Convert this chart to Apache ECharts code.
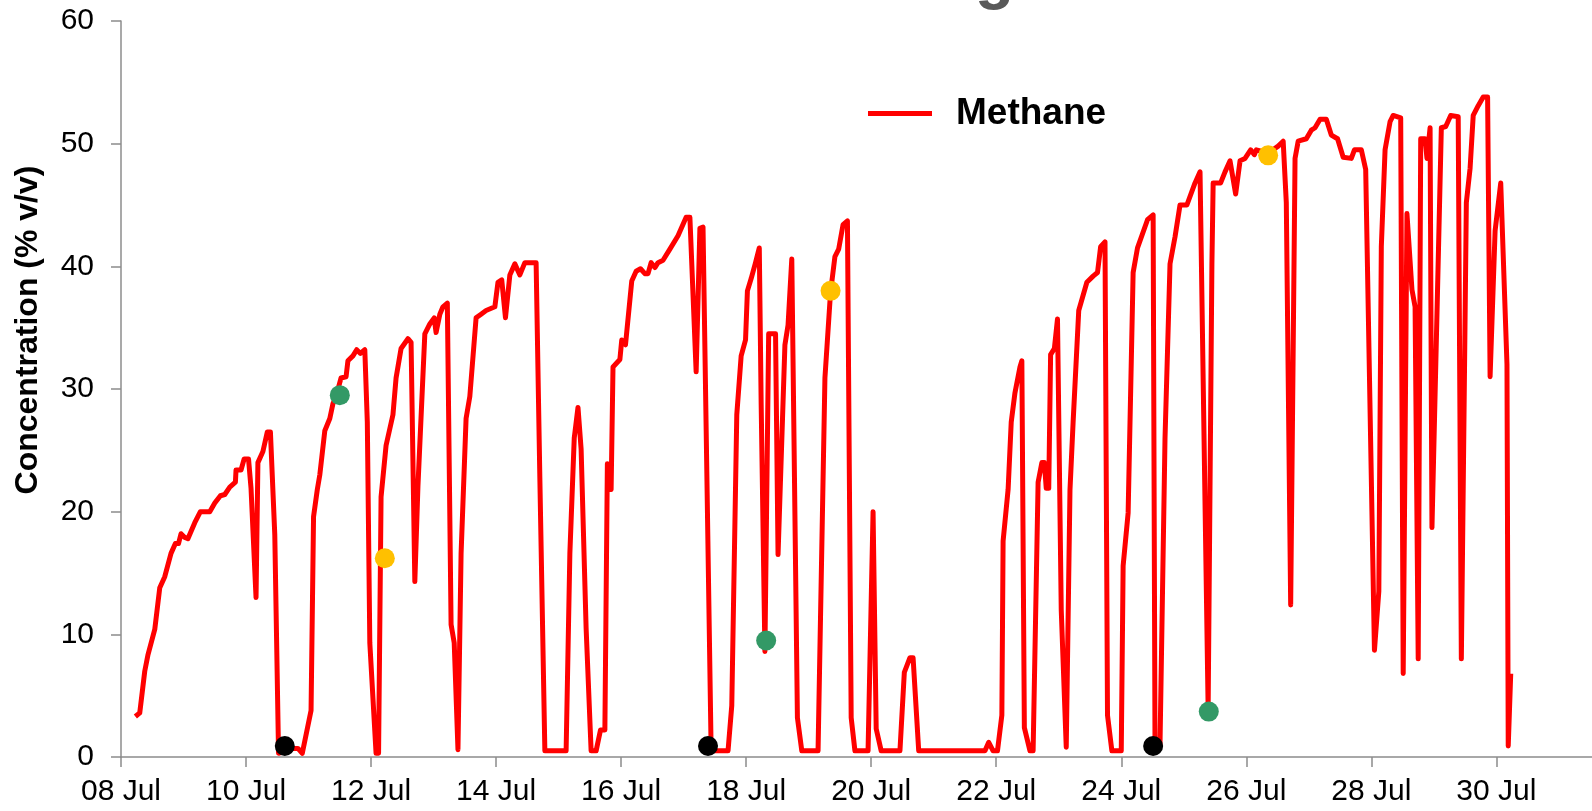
<!DOCTYPE html>
<html>
<head>
<meta charset="utf-8">
<script src="https://cdn.jsdelivr.net/npm/echarts@6/dist/echarts.min.js"></script>
<style>
html,body{margin:0;padding:0;background:#fff;}
#chart{width:1592px;height:811px;}
</style>
</head>
<body>
<div id="chart"></div>
<script>
// Time in days since 08 Jul 00:00
const dayOffsets = [
0.23,0.30,0.38,0.43,0.54,0.62,0.70,0.80,0.87,0.92,0.96,1.02,1.07,1.18,1.27,1.42,1.50,1.59,1.66,1.74,
1.83,1.84,1.92,1.97,2.04,2.08,2.16,2.19,2.27,2.34,2.39,2.46,2.52,2.75,2.83,2.90,3.04,3.08,3.14,3.18,
3.26,3.34,3.39,3.44,3.52,3.60,3.63,3.71,3.77,3.83,3.90,3.94,3.98,4.08,4.12,4.16,4.24,4.35,4.40,4.48,
4.59,4.64,4.70,4.75,4.86,4.94,5.01,5.04,5.10,5.15,5.22,5.28,5.33,5.39,5.44,5.52,5.58,5.68,5.76,5.84,
5.98,6.03,6.09,6.15,6.22,6.30,6.38,6.46,6.64,6.70,6.78,7.12,7.18,7.25,7.31,7.36,7.44,7.52,7.60,7.67,
7.74,7.78,7.84,7.87,7.98,8.01,8.07,8.17,8.24,8.31,8.38,8.43,8.48,8.54,8.59,8.67,8.78,8.91,9.04,9.10,
9.20,9.26,9.31,9.44,9.71,9.77,9.85,9.92,9.99,10.02,10.08,10.15,10.21,10.24,10.30,10.36,10.47,10.51,10.62,10.67,
10.73,10.82,10.89,11.15,11.26,11.35,11.42,11.48,11.55,11.62,11.68,11.74,11.95,12.03,12.08,12.16,12.46,12.53,12.62,12.67,
12.76,13.82,13.88,13.95,14.02,14.09,14.11,14.19,14.24,14.30,14.38,14.41,14.45,14.54,14.59,14.67,14.73,14.77,14.80,14.84,
14.87,14.93,14.98,15.04,15.12,15.18,15.23,15.32,15.45,15.55,15.62,15.67,15.74,15.78,15.85,16.00,16.03,16.11,16.19,16.26,
16.42,16.51,16.54,16.62,16.70,16.78,16.86,16.94,17.05,17.18,17.26,17.39,17.45,17.47,17.59,17.66,17.74,17.77,17.83,17.90,
17.98,18.07,18.13,18.16,18.30,18.40,18.51,18.59,18.64,18.71,18.78,18.83,18.96,19.04,19.10,19.18,19.28,19.36,19.46,19.55,
19.68,19.73,19.84,19.91,20.05,20.12,20.16,20.22,20.30,20.35,20.47,20.51,20.57,20.65,20.70,20.75,20.79,20.86,20.89,20.94,
20.97,21.12,21.19,21.27,21.39,21.44,21.52,21.58,21.63,21.71,21.79,21.86,21.90,21.98,22.07,22.17,22.19,22.23
];
// Methane concentration (% v/v)
const methane = [
3.3,3.6,7.0,8.3,10.4,13.8,14.7,16.6,17.4,17.4,18.2,17.9,17.8,19.1,20.0,20.0,20.7,21.3,21.4,22.0,
22.4,23.4,23.4,24.3,24.3,21.9,13.0,24.0,24.9,26.5,26.5,18.1,0.3,0.7,0.7,0.3,3.8,19.6,21.8,23.0,
26.6,27.6,28.8,29.4,30.9,31.0,32.3,32.7,33.2,32.9,33.2,27.3,9.3,0.3,0.3,21.2,25.4,27.9,30.9,33.3,
34.1,33.8,14.3,22.1,34.5,35.3,35.8,34.6,36.1,36.7,37.0,10.8,9.3,0.6,16.6,27.6,29.4,35.8,36.1,36.4,
36.7,38.7,38.9,35.8,39.3,40.2,39.3,40.3,40.3,22.7,0.5,0.5,16.6,26.0,28.5,25.1,10.5,0.5,0.5,2.2,
2.2,23.9,21.8,31.8,32.4,34.0,33.6,38.8,39.6,39.8,39.4,39.4,40.3,39.9,40.3,40.5,41.4,42.5,44.0,44.0,
31.4,43.1,43.2,0.5,0.5,4.2,27.9,32.7,34.0,38.0,39.0,40.3,41.5,28.8,8.6,34.5,34.5,16.5,33.6,35.2,
40.6,3.2,0.5,0.5,30.9,37.9,40.8,41.4,43.4,43.7,3.2,0.5,0.5,20.0,2.3,0.5,0.5,6.9,8.1,8.1,
0.5,0.5,1.2,0.5,0.5,3.4,17.6,21.8,27.3,29.7,31.8,32.3,2.4,0.5,0.5,22.4,24.0,24.0,21.9,21.9,
32.8,33.3,35.7,12.0,0.8,21.8,27.3,36.4,38.7,39.2,39.5,41.6,42.0,3.4,0.5,0.5,15.6,19.9,39.5,41.5,
43.8,44.2,1.0,1.0,26.0,40.2,42.4,45.0,45.0,46.8,47.7,3.9,40.2,46.8,46.8,47.7,48.6,48.6,45.9,48.6,
48.8,49.5,49.1,49.5,49.3,49.4,49.8,50.2,45.2,12.4,48.8,50.2,50.4,51.1,51.3,52.0,52.0,50.7,50.4,48.9,
48.8,49.5,49.5,47.9,8.7,13.5,41.6,49.5,51.8,52.3,52.1,6.8,44.3,38.1,36.7,8.0,50.4,50.4,48.8,51.3,
18.7,51.3,51.4,52.3,52.2,8.0,45.2,48.0,52.3,53.1,53.8,53.8,31.0,42.9,46.8,32.0,0.9,6.8
];
// Sampling markers
const blackDays = [2.62, 9.39, 16.51];
const blackVals = [0.9, 0.9, 0.9];
const greenDays = [3.50, 10.32, 17.40];
const greenVals = [29.5, 9.5, 3.7];
const yellowDays = [4.22, 11.35, 18.35];
const yellowVals = [16.2, 38.0, 49.05];

const yTicks = [0, 10, 20, 30, 40, 50, 60];
const seriesName = 'Methane';
const yTitle = 'Concentration (% v/v)';
const titleFragment = 'g';

function zip(a, b) { return a.map((v, i) => [v, b[i]]); }
function dayLabel(v) {
  if (Math.abs(v - Math.round(v)) > 1e-6) return '';
  const d = 8 + Math.round(v);
  return (d < 10 ? '0' + d : '' + d) + ' Jul';
}

const FONT = '"Liberation Sans", Arial, sans-serif';
const chart = echarts.init(document.getElementById('chart'), null, {renderer: 'canvas'});
chart.setOption({
  animation: false,
  backgroundColor: '#ffffff',
  grid: {left: 121, right: 0, top: 21, bottom: 54, containLabel: false},
  legend: {
    data: [seriesName],
    left: 863, top: 90,
    icon: 'rect', itemWidth: 64, itemHeight: 5,
    textStyle: {fontFamily: FONT, fontSize: 37, fontWeight: 'bold', color: '#000', padding: [0, 0, 0, 19]}
  },
  graphic: [
    {type: 'text', x: 975, y: -21,
     style: {text: titleFragment, font: 'bold 64px "Liberation Sans", Arial, sans-serif', fill: '#595959', align: 'left', verticalAlign: 'middle'}},
    {type: 'text', x: 28, y: 330, rotation: Math.PI / 2,
     style: {text: yTitle, font: 'bold 32px "Liberation Sans", Arial, sans-serif', fill: '#000', align: 'center', verticalAlign: 'middle'}}
  ],
  xAxis: {
    type: 'value', min: 0, max: 23.53, interval: 2,
    axisLine: {show: true, lineStyle: {color: '#8c8c8c', width: 1.5}},
    axisTick: {show: true, length: 10, lineStyle: {color: '#8c8c8c', width: 1.5}},
    axisLabel: {formatter: dayLabel, showMaxLabel: false, fontFamily: FONT, fontSize: 30, color: '#000', margin: 20},
    splitLine: {show: false}
  },
  yAxis: {
    type: 'value', min: yTicks[0], max: yTicks[yTicks.length - 1], interval: 10,
    axisLine: {show: true, lineStyle: {color: '#8c8c8c', width: 1.5}},
    axisTick: {show: true, length: 10, lineStyle: {color: '#8c8c8c', width: 1.5}},
    axisLabel: {fontFamily: FONT, fontSize: 30, color: '#000', margin: 27},
    splitLine: {show: false}
  },
  series: [
    {name: seriesName, type: 'line', data: zip(dayOffsets, methane), showSymbol: false, symbol: 'none',
     lineStyle: {color: '#ff0000', width: 5, join: 'round'}, itemStyle: {color: '#ff0000'}, z: 2},
    {name: 'black', type: 'scatter', data: zip(blackDays, blackVals), symbolSize: 20, itemStyle: {color: '#000000', opacity: 1}, z: 3},
    {name: 'green', type: 'scatter', data: zip(greenDays, greenVals), symbolSize: 20, itemStyle: {color: '#339966', opacity: 1}, z: 3},
    {name: 'yellow', type: 'scatter', data: zip(yellowDays, yellowVals), symbolSize: 20, itemStyle: {color: '#ffc000', opacity: 1}, z: 3}
  ]
});
</script>
</body>
</html>
